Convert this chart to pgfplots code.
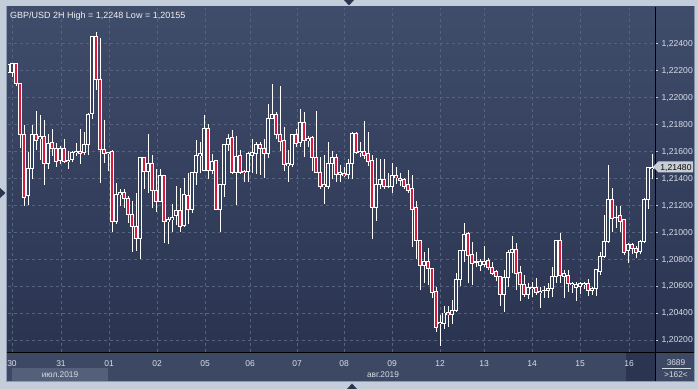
\documentclass[border=0pt]{standalone}
\usepackage{fontspec}
\setmainfont{Liberation Sans}
\usepackage{pgfplots}
\usepackage{pgfplotstable}
\pgfplotsset{compat=1.18}

\definecolor{outerc}{HTML}{C3CEDA}
\definecolor{bgtop}{HTML}{3F4C6A}
\definecolor{bgbot}{HTML}{2A3451}
\definecolor{botpanel}{HTML}{3D4964}
\definecolor{julbox}{HTML}{546079}
\definecolor{box16}{HTML}{2B3450}
\definecolor{gridc}{HTML}{56637F}
\definecolor{labc}{HTML}{D8DEE7}
\definecolor{tickc}{HTML}{C8D0DC}
\definecolor{bear}{HTML}{DA1A3D}
\definecolor{bullin}{HTML}{34415D}
\definecolor{pricebox}{HTML}{C9CDD4}
\definecolor{framec}{HTML}{8E9CB2}

\pgfplotstableread{
i O H L C
0 1.2218 1.2224 1.2218 1.2224
1 1.2218 1.2225 1.2215 1.2225
2 1.2225 1.2225 1.2208 1.2210
3 1.2210 1.2210 1.2162 1.2172
4 1.2172 1.2179 1.2119 1.2126
5 1.2127 1.2159 1.2120 1.2147
6 1.2147 1.2179 1.2139 1.2172
7 1.2172 1.2190 1.2161 1.2168
8 1.2169 1.2187 1.2153 1.2171
9 1.2171 1.2183 1.2135 1.2151
10 1.2151 1.2173 1.2147 1.2166
11 1.2166 1.2176 1.2156 1.2162
12 1.2162 1.2166 1.2148 1.2152
13 1.2153 1.2164 1.2150 1.2162
14 1.2162 1.2169 1.2151 1.2152
15 1.2153 1.2160 1.2147 1.2152
16 1.2154 1.2160 1.2152 1.2159
17 1.2159 1.2166 1.2156 1.2160
18 1.2160 1.2176 1.2150 1.2158
19 1.2159 1.2174 1.2157 1.2165
20 1.2165 1.2188 1.2157 1.2187
21 1.2188 1.2245 1.2184 1.2245
22 1.2245 1.2248 1.2205 1.2213
23 1.2213 1.2244 1.2136 1.2161
24 1.2161 1.2183 1.2151 1.2158
25 1.2159 1.2159 1.2145 1.2158
26 1.2160 1.2161 1.2100 1.2108
27 1.2108 1.2136 1.2106 1.2128
28 1.2128 1.2132 1.2119 1.2129
29 1.2129 1.2132 1.2118 1.2125
30 1.2125 1.2127 1.2107 1.2113
31 1.2113 1.2123 1.2085 1.2104
32 1.2104 1.2129 1.2086 1.2095
33 1.2095 1.2155 1.2080 1.2155
34 1.2155 1.2155 1.2132 1.2145
35 1.2145 1.2173 1.2129 1.2151
36 1.2151 1.2157 1.2118 1.2131
37 1.2131 1.2147 1.2115 1.2123
38 1.2123 1.2147 1.2122 1.2142
39 1.2142 1.2142 1.2092 1.2108
40 1.2108 1.2111 1.2091 1.2109
41 1.2109 1.2121 1.2100 1.2111
42 1.2112 1.2134 1.2105 1.2116
43 1.2116 1.2133 1.2100 1.2104
44 1.2105 1.2140 1.2104 1.2128
45 1.2127 1.2144 1.2106 1.2117
46 1.2117 1.2144 1.2114 1.2144
47 1.2144 1.2168 1.2135 1.2157
48 1.2157 1.2167 1.2144 1.2158
49 1.2146 1.2187 1.2146 1.2177
50 1.2177 1.2180 1.2139 1.2146
51 1.2146 1.2158 1.2143 1.2152
52 1.2153 1.2153 1.2117 1.2117
53 1.2117 1.2135 1.2100 1.2135
54 1.2135 1.2165 1.2126 1.2165
55 1.2165 1.2173 1.2160 1.2169
56 1.2170 1.2176 1.2143 1.2144
57 1.2144 1.2171 1.2120 1.2156
58 1.2157 1.2161 1.2143 1.2144
59 1.2145 1.2146 1.2137 1.2144
60 1.2145 1.2159 1.2137 1.2158
61 1.2157 1.2169 1.2144 1.2159
62 1.2158 1.2167 1.2143 1.2165
63 1.2165 1.2167 1.2142 1.2162
64 1.2162 1.2169 1.2140 1.2158
65 1.2158 1.2195 1.2155 1.2184
66 1.2184 1.2210 1.2184 1.2187
67 1.2187 1.2189 1.2169 1.2172
68 1.2172 1.2208 1.2160 1.2167
69 1.2168 1.2178 1.2145 1.2150
70 1.2149 1.2161 1.2137 1.2151
71 1.2150 1.2172 1.2148 1.2172
72 1.2172 1.2176 1.2163 1.2166
73 1.2166 1.2191 1.2163 1.2181
74 1.2181 1.2189 1.2156 1.2168
75 1.2168 1.2171 1.2163 1.2169
76 1.2170 1.2171 1.2145 1.2155
77 1.2155 1.2190 1.2144 1.2144
78 1.2144 1.2156 1.2132 1.2134
79 1.2134 1.2157 1.2121 1.2135
80 1.2134 1.2167 1.2132 1.2151
81 1.2151 1.2160 1.2139 1.2155
82 1.2155 1.2158 1.2137 1.2143
83 1.2143 1.2150 1.2137 1.2144
84 1.2143 1.2148 1.2141 1.2142
85 1.2143 1.2154 1.2139 1.2151
86 1.2151 1.2174 1.2139 1.2173
87 1.2173 1.2174 1.2158 1.2159
88 1.2159 1.2167 1.2156 1.2160
89 1.2160 1.2182 1.2154 1.2157
90 1.2158 1.2174 1.2149 1.2152
91 1.2153 1.2157 1.2095 1.2118
92 1.2118 1.2155 1.2108 1.2135
93 1.2135 1.2154 1.2132 1.2139
94 1.2139 1.2154 1.2132 1.2134
95 1.2134 1.2144 1.2133 1.2134
96 1.2134 1.2151 1.2129 1.2142
97 1.2142 1.2148 1.2136 1.2140
98 1.2140 1.2144 1.2134 1.2138
99 1.2139 1.2140 1.2132 1.2134
100 1.2135 1.2146 1.2129 1.2131
101 1.2132 1.2142 1.2089 1.2117
102 1.2118 1.2123 1.2080 1.2094
103 1.2094 1.2094 1.2057 1.2075
104 1.2075 1.2085 1.2062 1.2078
105 1.2078 1.2088 1.2061 1.2073
106 1.2073 1.2073 1.2051 1.2055
107 1.2056 1.2059 1.2026 1.2029
108 1.2032 1.2039 1.20155 1.2033
109 1.2032 1.2045 1.2028 1.2040
110 1.2040 1.2045 1.2030 1.2039
111 1.2039 1.2050 1.2032 1.2042
112 1.2042 1.2070 1.2041 1.2065
113 1.2065 1.2087 1.2060 1.2086
114 1.2086 1.2107 1.2078 1.2098
115 1.2099 1.2100 1.2062 1.2083
116 1.2083 1.2093 1.2061 1.2077
117 1.2078 1.2085 1.2074 1.2078
118 1.2075 1.2080 1.2071 1.2078
119 1.2076 1.2090 1.2074 1.2078
120 1.2079 1.2081 1.2072 1.2074
121 1.2074 1.2078 1.2068 1.2069
122 1.2071 1.2072 1.2064 1.2067
123 1.2067 1.2067 1.2045 1.2054
124 1.2054 1.2072 1.2041 1.2066
125 1.2066 1.2087 1.2059 1.2085
126 1.2085 1.2097 1.2070 1.2087
127 1.2087 1.2092 1.2057 1.2069
128 1.2070 1.2075 1.2049 1.2061
129 1.2061 1.2068 1.2052 1.2054
130 1.2054 1.2062 1.2050 1.2059
131 1.2058 1.2063 1.2052 1.2059
132 1.2059 1.2066 1.2053 1.2055
133 1.2055 1.2059 1.2044 1.2056
134 1.2057 1.2060 1.2051 1.2057
135 1.2057 1.2062 1.2051 1.2058
136 1.2058 1.2074 1.2052 1.2067
137 1.2067 1.2094 1.2062 1.2094
138 1.2094 1.2099 1.2062 1.2068
139 1.2067 1.2072 1.2051 1.2069
140 1.2068 1.2072 1.2056 1.2062
141 1.2061 1.2063 1.2055 1.2062
142 1.2059 1.2063 1.2049 1.2061
143 1.2060 1.2063 1.2054 1.2062
144 1.2061 1.2063 1.2058 1.2062
145 1.2062 1.2065 1.2053 1.2057
146 1.2057 1.2059 1.2053 1.2058
147 1.2058 1.2072 1.2053 1.2072
148 1.2071 1.2085 1.2068 1.2082
149 1.2082 1.2113 1.2081 1.2093
150 1.2093 1.2150 1.2092 1.2124
151 1.2124 1.2133 1.2100 1.2110
152 1.2111 1.2119 1.2103 1.2111
153 1.2112 1.2119 1.2100 1.2108
154 1.2109 1.2110 1.2083 1.2085
155 1.2086 1.2092 1.2077 1.2091
156 1.2091 1.2092 1.2084 1.2088
157 1.2088 1.2090 1.2081 1.2085
158 1.2086 1.2094 1.2084 1.2093
159 1.2093 1.2125 1.2092 1.2124
160 1.2124 1.2148 1.2117 1.2148
161 1.2147 1.2158 1.2139 1.2148
}\candles

\begin{document}
\begin{tikzpicture}
\useasboundingbox (0,0) rectangle (698bp,389bp);
% ---- frame and panels, in pixel coordinates (y downwards)
\begin{scope}[x=1bp,y=-1bp,yshift=389bp]
  \fill[outerc] (0,0) rectangle (698,389);
  \fill[framec] (6,6) rectangle (695,382);
  \shade[top color=bgtop, bottom color=bgbot] (7,7) rectangle (694,352);
  \fill[botpanel] (7,352) rectangle (694,381);
  \fill[julbox] (12,368) rectangle (108,381);
  \fill[box16] (626,353) rectangle (655,381);
  % small triangles on the frame
  \fill[box16] (344,0) -- (354,0) -- (349,5.5) -- cycle;
  \fill[box16] (347,389) -- (357,389) -- (352,383.5) -- cycle;
  \fill[box16] (0,188) -- (0,198) -- (5.5,193) -- cycle;
\end{scope}

\begin{axis}[
  at={(8bp,37bp)}, anchor=south west,
  scale only axis, width=647bp, height=344bp,
  xmin=0, xmax=161.75,
  ymin=1.201111, ymax=1.226593,
  axis line style={draw=none},
  clip=true,
  xtick={1,13.25,25.25,37.25,49.25,60.5,72.25,84,96,108,119,131,143,155.25},
  xticklabels={30,31,01,02,05,06,07,08,09,12,13,14,15,16},
  ytick={1.202,1.204,1.206,1.208,1.21,1.212,1.214,1.216,1.218,1.22,1.222,1.224},
  scaled y ticks=false,
  yticklabel pos=right,
  ytick pos=right,
  xtick pos=bottom,
  tick align=outside,
  major tick length=2.5bp,
  xtick style={draw=none},
  ytick style={draw=tickc, line width=0.8bp},
  grid=major,
  grid style={draw=gridc, line width=0.7bp, dash pattern=on 3bp off 3bp},
  xticklabel style={anchor=base, inner sep=0pt, yshift=-11.5bp,
    font=\fontsize{8.5bp}{9bp}\selectfont, text=labc},
  yticklabel style={anchor=base west, inner sep=0pt, xshift=4bp, yshift=-3bp,
    font=\fontsize{8.6bp}{9bp}\selectfont, text=labc,
    /pgf/number format/.cd, fixed, fixed zerofill, precision=5, use comma,
    assume math mode=true},
  candle/.style={draw=none, mark=none, forget plot,
    error bars/y dir=both, error bars/y explicit, error bars/error mark=none,
    error bars/error bar style={line cap=butt, solid, #1}},
]
% wicks
\addplot[candle={draw=white, line width=1bp}]
  table[x=i, y expr={(\thisrow{H}+\thisrow{L})/2},
        y error expr={(\thisrow{H}-\thisrow{L})/2}] {\candles};
% body outline
\addplot[candle={draw=white, line width=3.4bp}]
  table[x=i, y expr={(\thisrow{O}+\thisrow{C})/2},
        y error expr={abs(\thisrow{O}-\thisrow{C})/2+0.000037}] {\candles};
% falling candles: red inside
\addplot[candle={draw=bear, line width=1.4bp}]
  table[x=i, y expr={(\thisrow{O}+\thisrow{C})/2},
        y error expr={max((\thisrow{O}-\thisrow{C})/2-0.000037,0)}] {\candles};
% rising candles: hollow inside
\addplot[candle={draw=bullin, line width=1.4bp}]
  table[x=i, y expr={(\thisrow{O}+\thisrow{C})/2},
        y error expr={max((\thisrow{C}-\thisrow{O})/2-0.000037,0)}] {\candles};
\end{axis}

\begin{scope}[x=1bp,y=-1bp,yshift=389bp]
  \draw[black, line width=1bp] (655,7) -- (655,381);
  \draw[black, line width=1bp] (7,352.5) -- (694,352.5);
  \node[anchor=base west, inner sep=0pt, text=white!92!bgtop,
        font=\fontsize{9bp}{10bp}\selectfont] at (10,18.5)
        {GBP/USD 2H High = 1,2248 Low = 1,20155};
  % current price marker
  \fill[pricebox] (653,167) -- (658.5,161.5) -- (693,161.5) -- (693,172.5) -- (658.5,172.5) -- cycle;
  \node[anchor=base, inner sep=0pt, text=black!85!bgbot,
        font=\fontsize{8.6bp}{9bp}\selectfont] at (676,170.2) {1,21480};
  % month labels
  \node[anchor=base, inner sep=0pt, text=labc,
        font=\fontsize{8.3bp}{9bp}\selectfont] at (60,377.5) {июл.2019};
  \node[anchor=base, inner sep=0pt, text=labc,
        font=\fontsize{8.3bp}{9bp}\selectfont] at (383,377.5) {авг.2019};
  % corner cell
  \node[anchor=base, inner sep=0pt, text=labc,
        font=\fontsize{8.3bp}{9bp}\selectfont] at (676,366) {3689};
  \draw[labc, line width=0.6bp] (662,368.5) -- (691,368.5);
  \node[anchor=base, inner sep=0pt, text=labc,
        font=\fontsize{8.3bp}{9bp}\selectfont] at (676,378) {>162<};
\end{scope}
\end{tikzpicture}
\end{document}
